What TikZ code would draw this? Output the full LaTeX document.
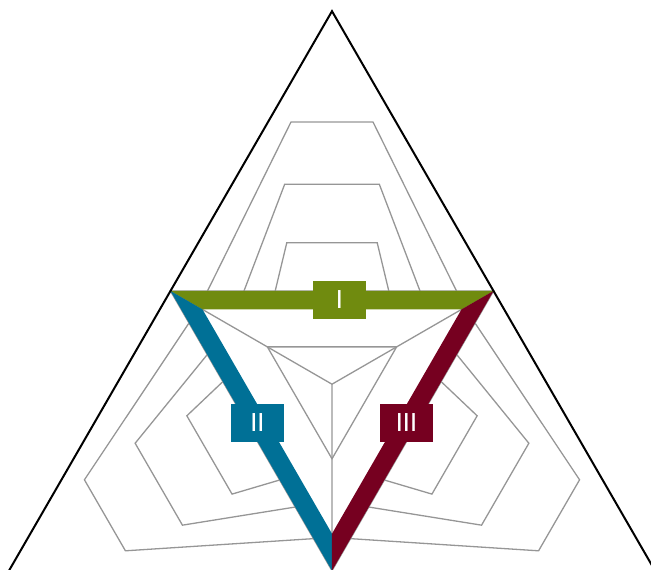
\documentclass[tikz,border=0pt]{standalone}
\usepackage{fontspec}
\setsansfont{Carlito}
\usetikzlibrary{calc}
\definecolor{bandI}{RGB}{112,139,15}
\definecolor{bandII}{RGB}{0,112,150}
\definecolor{bandIII}{RGB}{118,0,32}
\definecolor{gridgray}{RGB}{150,150,150}

\begin{document}
\begin{tikzpicture}[x=1pt,y=1pt,
  grid/.style={draw=gridgray,line width=1.3pt},
  tag/.style={minimum width=53pt,minimum height=38pt,inner sep=0pt,text=white,
    font=\sffamily\fontsize{28}{28}\selectfont}]
\clip (-332,-185.8) rectangle (319,384.2);
% inner triangle, centroid at the origin
\coordinate (A) at (150:186.5);
\coordinate (B) at (30:186.5);
\coordinate (C) at (270:186.5);
\coordinate (a) at (150:149.5);
\coordinate (b) at (30:149.5);
\coordinate (c) at (270:149.5);
\coordinate (T) at ($(A)+(B)-(C)$);
\coordinate (L) at ($(A)+(C)-(B)$);
\coordinate (R) at ($(B)+(C)-(A)$);
% outlines beyond each side, turned by 120 deg
\foreach \rot in {0,120,240} {
  \begin{scope}[rotate=\rot]
    \draw[grid] (-124.5,93.25) -- (-41,262.2) -- (41,262.2) -- (124.5,93.25);
    \draw[grid] (-88,93.25) -- (-47.3,200) -- (47.3,200) -- (88,93.25);
    \draw[grid] (-56.8,93.25) -- (-45.2,141.5) -- (45.2,141.5) -- (56.8,93.25);
  \end{scope}
}
% axes, small triangle and inner outline
\draw[grid] (0,0) -- (A) (0,0) -- (B) (0,0) -- (C);
\draw[grid] (150:74.6) -- (30:74.6) -- (270:74.6) -- cycle;
\draw[grid] (A) -- (B) -- (C) -- cycle;
% coloured bands
\fill[bandI] (A) -- (B) -- (b) -- (a) -- cycle;
\fill[bandII] (A) -- (a) -- (c) -- (C) -- cycle;
\fill[bandIII] (B) -- (b) -- (c) -- (C) -- cycle;
% outer triangle
\draw[line width=2pt] (L) -- (T) -- (R);
% labels
\node[tag,fill=bandI] (tagI) at (7.5,84.2) {I};
\node[tag,fill=bandII] (tagII) at (-74.5,-38.8) {II};
\node[tag,fill=bandIII] (tagIII) at (74.5,-38.8) {III};
\end{tikzpicture}
\end{document}
